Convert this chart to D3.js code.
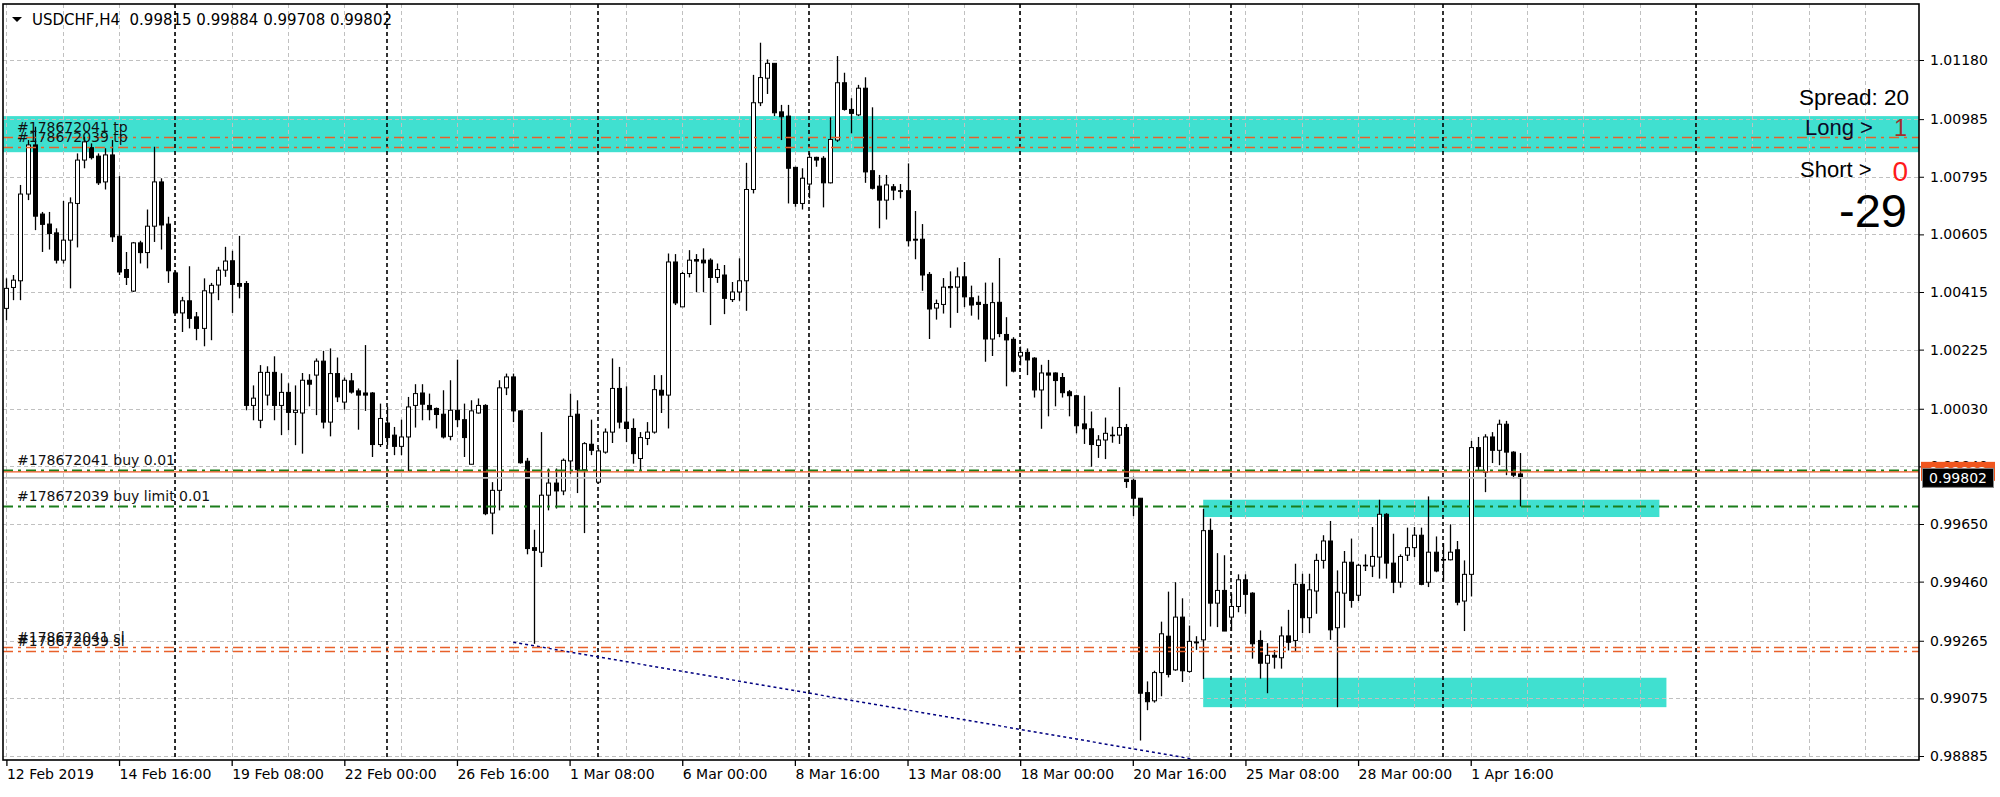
<!DOCTYPE html>
<html><head><meta charset="utf-8">
<script src="https://cdn.jsdelivr.net/npm/d3@7"></script>
<style>
html,body{margin:0;padding:0;background:#fff;}
svg{display:block;}
</style></head><body>
<svg id="c" width="2000" height="797"></svg>
<script>
// ---------------- DATA ----------------
const symbol = "USDCHF,H4";
// OHLC per H4 bar, bar 0 = 12 Feb 2019 00:00
const opens = [
1.00361,1.00430,1.00452,1.00738,1.00900,1.00672,1.00639,1.00610,1.00520,1.00586,
1.00707,1.00850,1.00891,1.00863,1.00778,1.00867,1.00599,1.00489,1.00418,1.00577,
1.00545,1.00632,1.00778,1.00639,1.00478,1.00346,1.00386,1.00333,1.00295,1.00412,
1.00438,1.00487,1.00518,1.00443,1.00443,1.00041,0.99992,1.00075,1.00150,1.00041,
1.00084,1.00018,1.00016,1.00124,1.00141,1.00187,0.99986,1.00146,1.00052,1.00122,
1.00089,1.00082,1.00082,0.99912,0.99983,0.99943,0.99906,0.99937,1.00041,1.00082,
1.00041,1.00031,1.00012,0.99939,1.00025,0.99994,0.99847,1.00016,1.00041,0.99686,
0.99761,1.00099,1.00135,1.00023,0.99857,0.99572,0.99557,0.99745,0.99785,0.99759,
0.99858,1.00012,0.99829,0.99913,0.99788,0.99887,0.99953,1.00097,0.99986,0.99965,
0.99866,0.99932,0.99953,1.00091,1.00075,1.00514,1.00366,1.00476,1.00522,1.00520,
1.00520,1.00463,1.00471,1.00390,1.00415,1.00452,1.00753,1.01039,1.01120,1.01169,
1.01009,1.00995,1.00826,1.00707,1.00771,1.00859,1.00856,1.00775,1.00916,1.01105,
1.01017,1.00999,1.01087,1.00815,1.00764,1.00718,1.00762,1.00749,1.00749,1.00589,
1.00589,1.00473,1.00362,1.00374,1.00433,1.00431,1.00465,1.00396,1.00381,1.00374,
1.00260,1.00381,1.00275,1.00259,1.00204,1.00216,1.00197,1.00092,1.00148,1.00148,
1.00133,1.00086,1.00073,0.99980,0.99964,0.99909,0.99927,0.99943,0.99943,0.99968,
0.99794,0.99735,0.99094,0.99067,0.99160,0.99280,0.99169,0.99343,0.99164,0.99261,
0.99268,0.99629,0.99389,0.99431,0.99343,0.99378,0.99466,0.99422,0.99266,0.99191,
0.99217,0.99209,0.99281,0.99266,0.99451,0.99341,0.99429,0.99530,0.99594,0.99308,
0.99422,0.99524,0.99415,0.99514,0.99511,0.99541,0.99682,0.99521,0.99458,0.99547,
0.99572,0.99613,0.99458,0.99557,0.99533,0.99532,0.99565,0.99396,0.99484,0.99902,
0.99821,0.99937,0.99893,0.99979,0.99887,0.99815];
const highs = [
1.00460,1.00471,1.00768,1.00916,1.00960,1.00679,1.00679,1.00625,1.00715,1.00727,
1.00872,1.00927,1.00905,1.00872,1.00889,1.00916,1.00797,1.00547,1.00580,1.00584,
1.00687,1.00894,1.00790,1.00663,1.00484,1.00399,1.00500,1.00349,1.00460,1.00445,
1.00498,1.00564,1.00551,1.00600,1.00451,1.00107,1.00174,1.00170,1.00203,1.00147,
1.00114,1.00107,1.00148,1.00144,1.00196,1.00221,1.00229,1.00199,1.00133,1.00148,
1.00097,1.00240,1.00085,1.00047,1.00036,0.99970,0.99994,1.00069,1.00111,1.00111,
1.00080,1.00034,1.00091,1.00124,1.00192,1.00047,1.00058,1.00064,1.00045,0.99788,
1.00124,1.00146,1.00146,1.00025,0.99868,0.99631,0.99953,0.99833,0.99833,0.99866,
1.00080,1.00058,0.99920,0.99994,0.99899,0.99965,1.00196,1.00168,1.00104,0.99998,
0.99953,0.99986,1.00141,1.00141,1.00542,1.00540,1.00481,1.00553,1.00540,1.00559,
1.00526,1.00509,1.00504,1.00448,1.00526,1.00841,1.01131,1.01237,1.01182,1.01169,
1.01032,1.01032,1.00828,1.00823,1.00874,1.00861,1.00863,1.00991,1.01193,1.01138,
1.01054,1.01098,1.01123,1.01024,1.00801,1.00801,1.00771,1.00771,1.00839,1.00682,
1.00639,1.00481,1.00390,1.00461,1.00483,1.00496,1.00514,1.00436,1.00403,1.00446,
1.00446,1.00527,1.00332,1.00266,1.00235,1.00229,1.00200,1.00175,1.00191,1.00150,
1.00148,1.00092,1.00076,1.00073,1.00021,0.99943,1.00001,0.99971,1.00101,0.99980,
0.99806,0.99735,0.99131,0.99166,0.99328,0.99427,0.99458,0.99405,0.99315,0.99280,
0.99700,0.99668,0.99554,0.99547,0.99420,0.99484,0.99484,0.99425,0.99299,0.99257,
0.99235,0.99312,0.99367,0.99519,0.99486,0.99486,0.99552,0.99613,0.99660,0.99497,
0.99561,0.99602,0.99519,0.99550,0.99640,0.99730,0.99686,0.99618,0.99550,0.99638,
0.99640,0.99638,0.99741,0.99609,0.99587,0.99649,0.99594,0.99530,0.99924,0.99937,
0.99946,0.99953,0.99994,0.99990,0.99890,0.99884];
const lows = [
1.00322,1.00388,1.00388,1.00718,1.00619,1.00547,1.00555,1.00509,1.00509,1.00427,
1.00562,1.00823,1.00852,1.00768,1.00753,1.00580,1.00471,1.00438,1.00415,1.00509,
1.00493,1.00580,1.00555,1.00445,1.00342,1.00283,1.00295,1.00256,1.00236,1.00256,
1.00388,1.00465,1.00346,1.00394,1.00025,0.99992,0.99966,1.00041,0.99992,0.99943,
0.99959,0.99910,0.99882,1.00038,1.00009,0.99965,0.99939,1.00052,1.00027,1.00080,
0.99961,1.00023,0.99871,0.99904,0.99910,0.99877,0.99877,0.99825,0.99968,0.99992,
0.99992,0.99965,0.99932,0.99926,0.99970,0.99871,0.99847,1.00014,0.99679,0.99616,
0.99695,1.00075,0.99986,0.99849,0.99550,0.99255,0.99508,0.99695,0.99701,0.99745,
0.99816,0.99752,0.99620,0.99877,0.99783,0.99882,0.99917,0.99965,0.99920,0.99849,
0.99827,0.99910,0.99948,1.00016,0.99965,1.00372,1.00366,1.00463,1.00415,1.00415,
1.00306,1.00445,1.00342,1.00382,1.00386,1.00353,1.00740,1.01028,1.01068,1.00995,
1.00916,1.00707,1.00696,1.00687,1.00724,1.00828,1.00694,1.00773,1.00910,1.01013,
1.00938,1.00995,1.00775,1.00753,1.00625,1.00654,1.00718,1.00724,1.00565,1.00523,
1.00419,1.00260,1.00324,1.00344,1.00297,1.00346,1.00365,1.00337,1.00324,1.00185,
1.00204,1.00266,1.00104,1.00150,1.00173,1.00141,1.00067,0.99964,1.00005,1.00038,
1.00067,1.00005,0.99949,0.99914,0.99839,0.99868,0.99864,0.99918,0.99914,0.99769,
0.99676,0.98936,0.99036,0.99061,0.99082,0.99144,0.99166,0.99129,0.99160,0.99235,
0.99139,0.99312,0.99310,0.99297,0.99297,0.99359,0.99354,0.99206,0.99140,0.99092,
0.99173,0.99173,0.99233,0.99231,0.99290,0.99290,0.99354,0.99503,0.99268,0.99046,
0.99308,0.99374,0.99396,0.99495,0.99475,0.99470,0.99470,0.99422,0.99440,0.99528,
0.99541,0.99448,0.99442,0.99491,0.99458,0.99530,0.99382,0.99297,0.99411,0.99827,
0.99755,0.99851,0.99844,0.99811,0.99800,0.99708];
const closes = [
1.00427,1.00454,1.00738,1.00900,1.00665,1.00638,1.00608,1.00520,1.00586,1.00709,
1.00850,1.00910,1.00858,1.00775,1.00867,1.00597,1.00481,1.00463,1.00577,1.00545,
1.00632,1.00778,1.00636,1.00485,1.00346,1.00386,1.00328,1.00295,1.00419,1.00437,
1.00487,1.00517,1.00440,1.00434,1.00041,1.00065,1.00150,1.00150,1.00041,1.00084,
1.00018,1.00025,1.00124,1.00111,1.00187,0.99986,1.00146,1.00069,1.00124,1.00085,
1.00075,1.00075,0.99912,0.99998,0.99935,0.99906,0.99937,1.00036,1.00080,1.00045,
1.00027,1.00011,0.99937,1.00025,0.99994,0.99935,1.00023,1.00041,0.99684,0.99761,
1.00099,1.00135,1.00023,0.99852,0.99569,0.99563,0.99745,0.99785,0.99759,0.99860,
1.00005,0.99829,0.99915,0.99893,0.99891,0.99953,1.00097,0.99986,0.99965,0.99882,
0.99935,0.99953,1.00093,1.00075,1.00514,1.00379,1.00476,1.00520,1.00517,1.00511,
1.00463,1.00489,1.00394,1.00415,1.00452,1.00753,1.01039,1.01122,1.01169,1.01006,
1.00993,1.00823,1.00707,1.00790,1.00859,1.00850,1.00775,1.00918,1.01105,1.01017,
1.01004,1.01087,1.00811,1.00757,1.00718,1.00768,1.00751,1.00748,1.00584,1.00586,
1.00471,1.00359,1.00377,1.00431,1.00429,1.00465,1.00399,1.00372,1.00374,1.00260,
1.00380,1.00278,1.00257,1.00154,1.00216,1.00191,1.00092,1.00148,1.00141,1.00123,
1.00083,1.00073,0.99974,0.99964,0.99912,0.99927,0.99949,0.99941,0.99968,0.99790,
0.99735,0.99092,0.99064,0.99160,0.99288,0.99154,0.99343,0.99166,0.99263,0.99258,
0.99628,0.99389,0.99431,0.99297,0.99378,0.99466,0.99418,0.99255,0.99191,0.99217,
0.99211,0.99281,0.99260,0.99451,0.99341,0.99433,0.99530,0.99594,0.99301,0.99425,
0.99524,0.99398,0.99514,0.99512,0.99543,0.99682,0.99521,0.99458,0.99543,0.99572,
0.99613,0.99451,0.99557,0.99495,0.99532,0.99557,0.99392,0.99484,0.99902,0.99840,
0.99937,0.99893,0.99979,0.99887,0.99811,0.99802];

const xTickBars   = [0,16,32,48,64,80,96,112,128,144,160,176,192,208];
const xTickLabels = ["12 Feb 2019","14 Feb 16:00","19 Feb 08:00","22 Feb 00:00","26 Feb 16:00","1 Mar 08:00","6 Mar 00:00","8 Mar 16:00","13 Mar 08:00","18 Mar 00:00","20 Mar 16:00","25 Mar 08:00","28 Mar 00:00","1 Apr 16:00"];
const yTickValues = [1.01180,1.00985,1.00795,1.00605,1.00415,1.00225,1.00030,0.99840,0.99650,0.99460,0.99265,0.99075,0.98885];
const yTickLabels = ["1.01180","1.00985","1.00795","1.00605","1.00415","1.00225","1.00030","0.99840","0.99650","0.99460","0.99265","0.99075","0.98885"];
const separatorBars = [24,54,84,114,144,174,204,240];

// order levels
const levelNames  = ["#178672041 tp","#178672039 tp","#178672041 buy 0.01","#178672039 buy limit 0.01","#178672041 sl","#178672039 sl"];
const levelPrices = [1.00927,1.00892,0.99829,0.99708,0.99246,0.99231];
const levelKinds  = ["stop","stop","order","order","stop","stop"];
const askPrice = 0.99822;
const bidPrice = 0.99802;

// rectangle zones (bar index / price)
const zoneStartBars = [-10,170,170];
const zoneEndBars   = [300,234.8,235.8];
const zoneTops      = [1.00995,0.99730,0.99143];
const zoneBottoms   = [1.00876,0.99673,0.99046];

// dotted trend line
const trendBars   = [72,168.5];
const trendPrices = [0.99260,0.98875];

// info panel
const spreadValue = 20;
const longCount = 1;
const shortCount = 0;
const profitValue = -29;

// ---------------- DRAW ----------------
const svg = d3.select("#c");
const P = {l:3,t:4,r:1919,b:760};
const x = d3.scaleLinear().domain([0,256]).range([6.4,6.4+7.04*256]);
const y = d3.scaleLinear().domain([0.98885,1.01180]).range([756,60]);
const FONT = "'DejaVu Sans', Verdana, sans-serif";
const FONT2 = "'Liberation Sans', Arial, sans-serif";

svg.append("rect").attr("width",2000).attr("height",797).attr("fill","#fff");
svg.append("defs").append("clipPath").attr("id","pc")
  .append("rect").attr("x",P.l).attr("y",P.t).attr("width",P.r-P.l).attr("height",P.b-P.t);
const g = svg.append("g").attr("clip-path","url(#pc)");

// zones
g.append("g").selectAll("rect").data(zoneTops).join("rect")
  .attr("x",(d,i)=>x(zoneStartBars[i]))
  .attr("width",(d,i)=>x(zoneEndBars[i])-x(zoneStartBars[i]))
  .attr("y",(d,i)=>y(zoneTops[i]))
  .attr("height",(d,i)=>y(zoneBottoms[i])-y(zoneTops[i]))
  .attr("fill","#40e0d0");

// grid
const gridBars = d3.range(0,272,8);
g.append("g").selectAll("line").data(yTickValues).join("line")
  .attr("x1",P.l).attr("x2",P.r).attr("y1",d=>Math.round(y(d))+0.5).attr("y2",d=>Math.round(y(d))+0.5)
  .attr("stroke","#c0c0c0").attr("stroke-width",1).attr("stroke-dasharray","4,3");
g.append("g").selectAll("line").data(gridBars).join("line")
  .attr("x1",d=>Math.round(x(d))+0.5).attr("x2",d=>Math.round(x(d))+0.5).attr("y1",P.t).attr("y2",P.b)
  .attr("stroke","#c0c0c0").attr("stroke-width",1).attr("stroke-dasharray","4,3");

// period separators
g.append("g").selectAll("line").data(separatorBars).join("line")
  .attr("x1",d=>Math.round(x(d))).attr("x2",d=>Math.round(x(d))).attr("y1",P.t).attr("y2",P.b)
  .attr("stroke","#000").attr("stroke-width",1.6).attr("stroke-dasharray","4,3");

// trend line
g.append("line")
  .attr("x1",x(trendBars[0])).attr("y1",y(trendPrices[0]))
  .attr("x2",x(trendBars[1])).attr("y2",y(trendPrices[1]))
  .attr("stroke","#000080").attr("stroke-width",1.5).attr("stroke-dasharray","3,3");

// candles
const idx = d3.range(opens.length);
const cg = g.append("g");
cg.selectAll("line.w").data(idx).join("line").attr("class","w")
  .attr("x1",i=>Math.round(x(i))+0.5).attr("x2",i=>Math.round(x(i))+0.5)
  .attr("y1",i=>y(highs[i])).attr("y2",i=>y(lows[i]))
  .attr("stroke","#000").attr("stroke-width",1.3);
cg.selectAll("rect.b").data(idx).join("rect").attr("class","b")
  .attr("x",i=>Math.round(x(i))-1.5)
  .attr("width",4)
  .attr("y",i=>y(Math.max(opens[i],closes[i])))
  .attr("height",i=>Math.max(0.6,Math.abs(y(opens[i])-y(closes[i]))))
  .attr("fill",i=>closes[i]>=opens[i]?"#fff":"#000")
  .attr("stroke","#000").attr("stroke-width",1);

// order levels
const lg = g.append("g");
lg.selectAll("line").data(levelPrices).join("line")
  .attr("x1",P.l).attr("x2",P.r)
  .attr("y1",d=>Math.round(y(d))+0.5).attr("y2",d=>Math.round(y(d))+0.5)
  .attr("stroke",(d,i)=>levelKinds[i]==="order"?"#1b7d1b":"#e8602a")
  .attr("stroke-width",(d,i)=>levelKinds[i]==="order"?2:1.6)
  .attr("stroke-dasharray","10,5,3,5");
// ask / bid
g.append("line").attr("x1",P.l).attr("x2",P.r).attr("y1",y(askPrice)).attr("y2",y(askPrice))
  .attr("stroke","#f05a24").attr("stroke-width",1.2);
g.append("line").attr("x1",P.l).attr("x2",P.r).attr("y1",y(bidPrice)).attr("y2",y(bidPrice))
  .attr("stroke","#bdbdbd").attr("stroke-width",1.6);
lg.selectAll("text").data(levelNames).join("text")
  .attr("x",17).attr("y",(d,i)=>y(levelPrices[i])-5)
  .attr("font-family",FONT).attr("font-size",14).attr("fill","#111")
  .text(d=>d);

// border
svg.append("rect").attr("x",P.l).attr("y",P.t).attr("width",P.r-P.l).attr("height",P.b-P.t)
  .attr("fill","none").attr("stroke","#000").attr("stroke-width",1.6);

// axes
const ya = svg.append("g").attr("transform",`translate(${P.r},0)`)
  .call(d3.axisRight(y).tickValues(yTickValues).tickFormat((d,i)=>yTickLabels[i]).tickSize(5).tickPadding(6));
ya.select(".domain").remove();
ya.selectAll("text").attr("font-family",FONT).attr("font-size",14).attr("fill","#000");
ya.selectAll("line").attr("stroke","#000");

const xa = svg.append("g").attr("transform",`translate(0,${P.b})`)
  .call(d3.axisBottom(x).tickValues(xTickBars).tickFormat((d,i)=>xTickLabels[i]).tickSize(6).tickPadding(3));
xa.select(".domain").remove();
xa.selectAll("text").attr("font-family",FONT).attr("font-size",14).attr("fill","#000")
  .attr("text-anchor","start").attr("x",0);
xa.selectAll("line").attr("stroke","#000").attr("stroke-width",1.3);

// price boxes on axis
const pb = svg.append("g");
pb.append("rect").attr("x",1921).attr("y",y(askPrice)-10).attr("width",74).attr("height",19).attr("fill","#f0561e");
pb.append("text").attr("x",1958).attr("y",y(askPrice)+5).attr("text-anchor","middle")
  .attr("font-family",FONT).attr("font-size",14).attr("fill","#fff").text(askPrice.toFixed(5));
pb.append("rect").attr("x",1922.5).attr("y",y(bidPrice)-9.5).attr("width",71).attr("height",19)
  .attr("fill","#000").attr("stroke","#888").attr("stroke-width",1);
pb.append("text").attr("x",1958).attr("y",y(bidPrice)+5).attr("text-anchor","middle")
  .attr("font-family",FONT).attr("font-size",14).attr("fill","#fff").text(bidPrice.toFixed(5));

// header
const last = opens.length-1;
svg.append("path").attr("d","M12,17 L22,17 L17,22 Z").attr("fill","#000");
svg.append("text").attr("x",32).attr("y",25).attr("font-family",FONT).attr("font-size",15).attr("fill","#000")
  .attr("xml:space","preserve")
  .text(`${symbol}  ${opens[last].toFixed(5)} ${highs[last].toFixed(5)} ${lows[last].toFixed(5)} ${closes[last].toFixed(5)}`);

// info panel
const ip = svg.append("g").attr("font-family",FONT2);
ip.append("text").attr("x",1909).attr("y",104.5).attr("text-anchor","end").attr("font-size",22.5).attr("fill","#000")
  .text(`Spread: ${spreadValue}`);
ip.append("text").attr("x",1805).attr("y",135).attr("font-size",22).attr("fill","#0a0a28").text("Long >");
ip.append("text").attr("x",1907).attr("y",135.5).attr("text-anchor","end").attr("font-size",23.5).attr("fill","#a0302c").text(longCount);
ip.append("text").attr("x",1800).attr("y",176.7).attr("font-size",22).attr("fill","#000").text("Short >");
ip.append("text").attr("x",1908).attr("y",180.5).attr("text-anchor","end").attr("font-size",28).attr("fill","#ff1a1a").text(shortCount);
ip.append("text").attr("x",1907).attr("y",227).attr("text-anchor","end").attr("font-size",47).attr("fill","#000").text(profitValue);
</script>
</body></html>
